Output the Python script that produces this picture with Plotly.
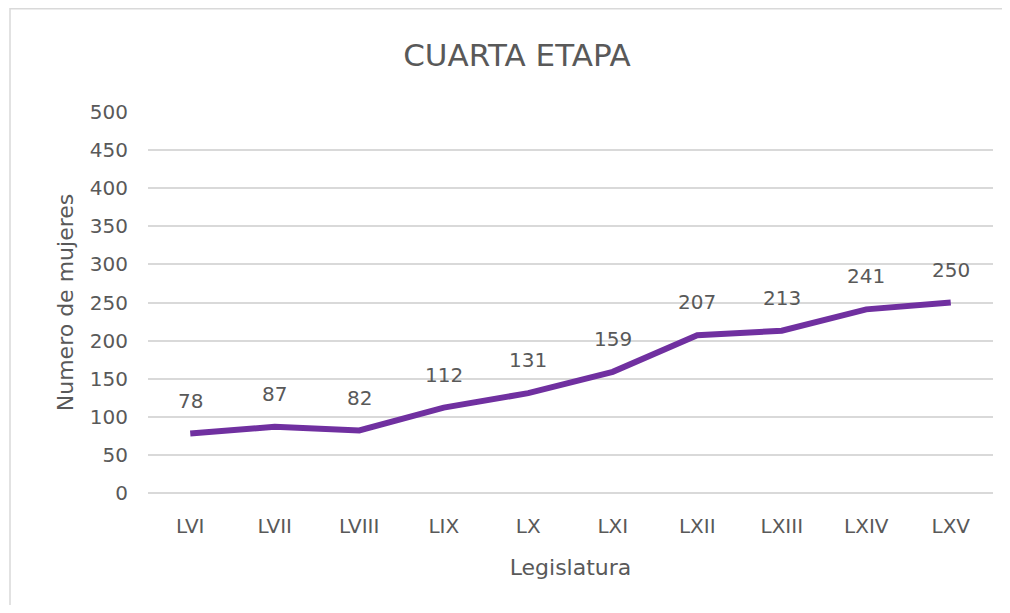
import plotly.graph_objects as go

legislaturas = ["LVI", "LVII", "LVIII", "LIX", "LX", "LXI", "LXII", "LXIII", "LXIV", "LXV"]
mujeres = [78, 87, 82, 112, 131, 159, 207, 213, 241, 250]
y_ticks = [0, 50, 100, 150, 200, 250, 300, 350, 400, 450, 500]

FONT = "DejaVu Sans"
GRAY = "#595959"

fig = go.Figure()
fig.add_trace(go.Scatter(
    x=legislaturas, y=mujeres, mode="lines",
    line=dict(color="#7030A0", width=6),
    hoverinfo="skip", showlegend=False,
))

for cat, val in zip(legislaturas, mujeres):
    fig.add_annotation(x=cat, y=val, text=str(val), showarrow=False,
                       yshift=33, font=dict(family=FONT, size=20, color=GRAY))

# page body has an 8px margin, so figure coords = screen coords - 8
W, H = 1002, 597
L, T = 140, 104
R = W - 985
B = H - 485
pw, ph = W - L - R, H - T - B

fig.add_shape(type="rect", xref="paper", yref="paper",
              x0=(2 - L) / pw, x1=(999 - L) / pw,
              y0=(H - B - 620) / ph, y1=(H - B - 0.8) / ph,
              line=dict(color="#d9d9d9", width=1.5), layer="below")

fig.update_layout(
    width=W, height=H,
    margin=dict(l=L, r=R, t=T, b=B),
    paper_bgcolor="white", plot_bgcolor="white",
    title=dict(text="CUARTA ETAPA", x=509 / W, xanchor="center", y=(H - 47) / H, yanchor="middle",
               font=dict(family=FONT, size=31, color=GRAY)),
    xaxis=dict(
        title=dict(text="Legislatura", font=dict(family=FONT, size=22, color=GRAY), standoff=22),
        tickfont=dict(family=FONT, size=20, color=GRAY),
        range=[-0.5, 9.5],
        showgrid=False, showline=False, ticks="", ticklabelstandoff=19,
    ),
    yaxis=dict(
        title=dict(text="Numero de mujeres", font=dict(family=FONT, size=22, color=GRAY), standoff=10),
        tickfont=dict(family=FONT, size=20, color=GRAY),
        range=[0, 500], tickvals=y_ticks, showgrid=True, gridcolor="#d9d9d9", gridwidth=1.5,
        zeroline=True, zerolinecolor="#d9d9d9", zerolinewidth=1.5,
        showline=False, ticks="", ticklabelstandoff=19,
    ),
)

fig.write_html("out.html")
